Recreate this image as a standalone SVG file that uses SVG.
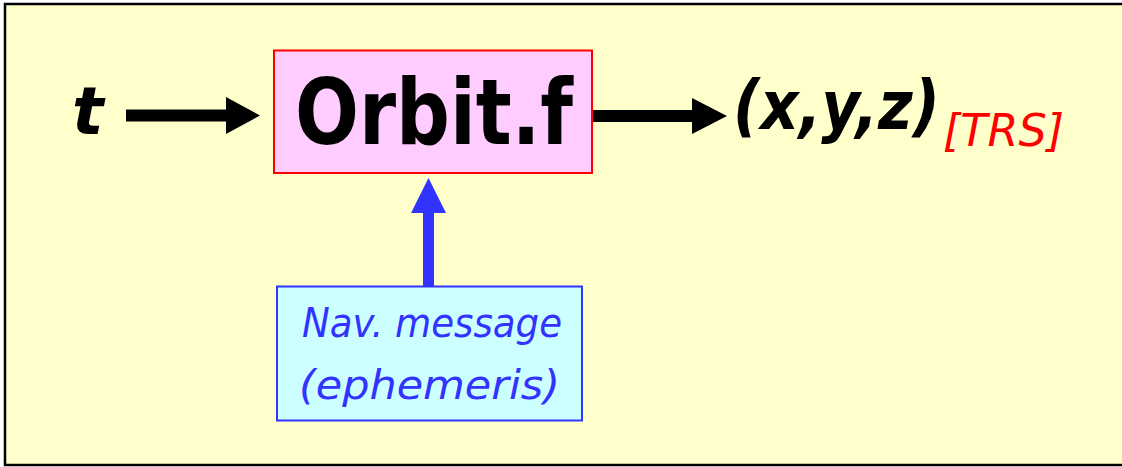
<svg xmlns="http://www.w3.org/2000/svg" width="1122" height="467" viewBox="0 0 1122 467">
  <style>
    .sans { font-family: "DejaVu Sans", Verdana, sans-serif; }
    .bold { font-weight: bold; }
    .ital { font-style: italic; }
    .dark { fill: #000000; }
    .blue { fill: #3333FF; }
    .red { fill: #FF0000; }
  </style>

  <!-- panel background -->
  <rect x="0" y="0" width="1122" height="467" fill="#FFFFFF"/>
  <rect x="5" y="4" width="1140" height="461" fill="#FFFFCC" stroke="#000000" stroke-width="2.5"/>

  <!-- connectors: thick shafts with solid triangular heads -->
  <g id="connectors">
    <path d="M126,109.5 H226 V97 L260,115.5 L226,134 V121.5 H126 Z" fill="#000000"/>
    <path d="M593,110 H692 V98 L727,116 L692,134 V122 H593 Z" fill="#000000"/>
    <path d="M423,286 V213 H411 L428.5,178 L446,213 H434 V286 Z" fill="#3333FF"/>
  </g>

  <!-- input time -->
  <g id="input-t">
    <text x="72" y="134" class="sans bold ital dark" font-size="66">t</text>
  </g>

  <!-- orbit routine -->
  <g id="orbit">
    <rect x="274" y="50.5" width="318" height="122.5" fill="#FFCCFF" stroke="#FF0000" stroke-width="2"/>
    <text x="295" y="144" class="sans bold dark" font-size="90" textLength="278" lengthAdjust="spacingAndGlyphs">Orbit.f</text>
  </g>

  <!-- output position -->
  <g id="output-xyz">
    <text x="733" y="129" class="sans bold ital dark" font-size="68" textLength="207" lengthAdjust="spacingAndGlyphs">(x,y,z)</text>
    <text x="943" y="146" class="sans ital red" font-size="45" textLength="121" lengthAdjust="spacingAndGlyphs">[TRS]</text>
  </g>

  <!-- navigation message -->
  <g id="nav-message">
    <rect x="277" y="286.5" width="305" height="134" fill="#CCFFFF" stroke="#3333FF" stroke-width="2"/>
    <text x="302" y="337" class="sans ital blue" font-size="41" textLength="260" lengthAdjust="spacingAndGlyphs">Nav. message</text>
    <text x="299" y="399" class="sans ital blue" font-size="41" textLength="261" lengthAdjust="spacingAndGlyphs">(ephemeris)</text>
  </g>
</svg>
